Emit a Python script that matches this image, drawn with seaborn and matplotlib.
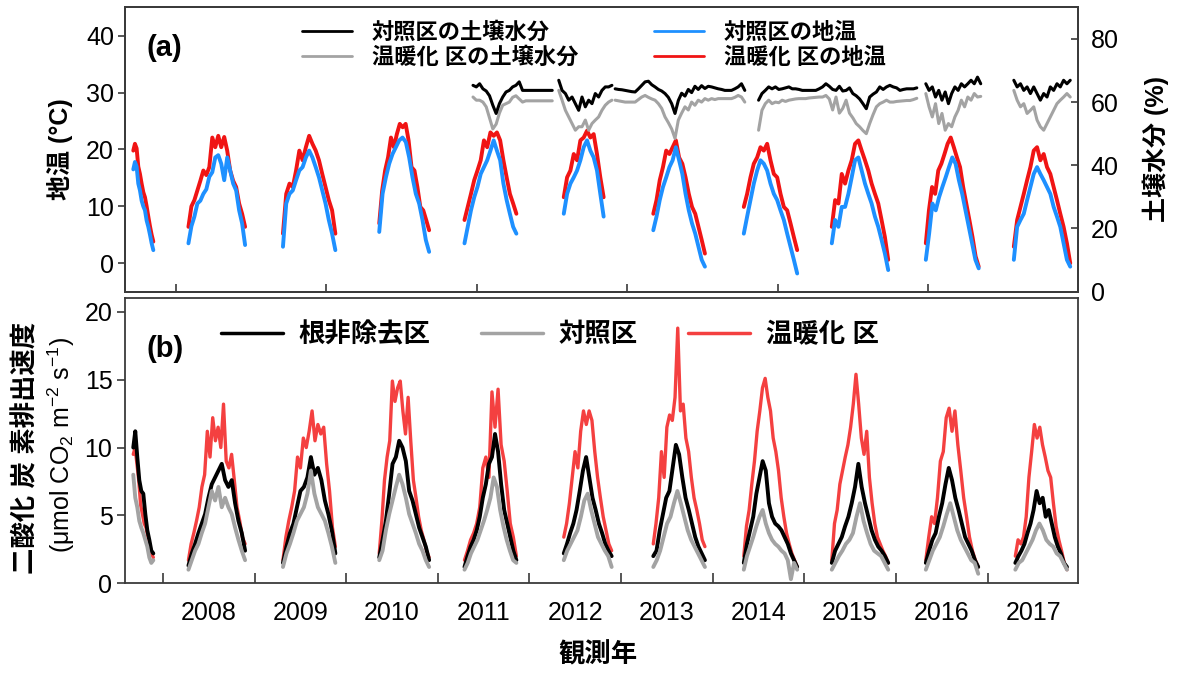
import pandas as pd
import matplotlib
matplotlib.use("Agg")
import matplotlib.pyplot as plt
from matplotlib.lines import Line2D
import seaborn as sns

# ---- soil temperature (deg C), one growing season per year ----
temp_seasons = {
    2007: ("2007-09-04", "2007-11-23"), 2008: ("2008-04-11", "2008-11-23"),
    2009: ("2009-04-23", "2009-11-18"), 2010: ("2010-05-12", "2010-11-27"),
    2011: ("2011-04-17", "2011-11-10"), 2012: ("2012-05-17", "2012-10-23"),
    2013: ("2013-05-09", "2013-12-01"), 2014: ("2014-05-05", "2014-12-04"),
    2015: ("2015-04-21", "2015-12-02"), 2016: ("2016-04-30", "2016-11-27"),
    2017: ("2017-04-16", "2017-11-27"),
}
temp_ctrl = {
    2007: [16.5, 17.8, 17.0, 14.0, 12.8, 11.0, 10.0, 9.3, 7.5, 6.4, 5.0, 3.5, 2.3],
    2008: [3.5, 6.5, 8.2, 10.5, 11.0, 12.2, 13.0, 15.2, 16.0, 18.6, 19.0, 17.5,
           14.6, 18.6, 16.3, 14.0, 12.8, 9.3, 7.0, 3.2],
    2009: [2.9, 10.5, 12.2, 12.8, 14.6, 16.3, 16.9, 18.6, 19.8, 18.6, 16.9, 15.1,
           12.8, 10.5, 7.6, 5.2, 2.3],
    2010: [5.5, 12.2, 15.1, 17.5, 19.2, 20.4, 21.6, 22.1, 21.3, 18.6, 15.1, 12.2,
           10.5, 7.6, 4.1, 2.0],
    2011: [3.5, 6.4, 9.3, 11.6, 13.4, 15.7, 16.9, 18.1, 19.8, 21.6, 19.8, 18.1,
           14.0, 11.1, 8.7, 6.4, 5.2],
    2012: [8.7, 12.2, 14.0, 15.1, 16.3, 18.1, 20.4, 21.6, 19.8, 18.6, 16.3, 12.2, 8.2],
    2013: [5.8, 8.2, 11.1, 13.4, 15.1, 16.9, 18.1, 20.4, 18.1, 15.7, 12.2, 9.3,
           7.0, 5.2, 2.9, 0.6, -0.6],
    2014: [5.2, 8.2, 11.1, 14.0, 16.3, 18.1, 17.5, 16.3, 14.0, 12.2, 11.1, 9.3,
           7.6, 5.2, 2.9, 0.6, -1.8],
    2015: [3.5, 7.6, 6.4, 9.9, 9.9, 12.2, 15.1, 18.1, 18.6, 16.3, 14.0, 12.2,
           10.5, 8.2, 6.4, 4.1, 1.7, -1.2],
    2016: [0.6, 5.2, 10.5, 9.3, 11.6, 13.4, 15.1, 16.9, 18.6, 17.5, 14.6, 12.2,
           9.3, 6.4, 3.5, 0.6, -0.9],
    2017: [0.6, 6.4, 7.6, 8.7, 11.1, 13.4, 15.7, 16.9, 15.7, 14.6, 13.4, 12.2,
           9.9, 8.2, 6.4, 3.5, 0.6, -0.6],
}
temp_warm = {
    2007: [19.8, 21.0, 20.2, 17.0, 15.7, 14.0, 12.5, 11.6, 10.0, 8.2, 6.5, 5.0, 3.8],
    2008: [6.4, 10.0, 11.1, 12.8, 14.5, 16.3, 15.5, 16.9, 22.1, 20.4, 22.4, 20.4,
           22.2, 19.8, 16.3, 14.5, 13.4, 10.5, 8.7, 6.4],
    2009: [5.2, 12.2, 14.0, 13.4, 16.3, 19.8, 18.1, 20.4, 22.4, 21.0, 19.8, 18.1,
           15.7, 13.4, 11.1, 9.3, 5.2],
    2010: [7.0, 12.8, 16.3, 18.6, 22.1, 20.4, 22.7, 24.5, 23.9, 24.5, 21.6, 16.9,
           16.3, 13.4, 9.9, 9.3, 7.6, 5.8],
    2011: [7.6, 9.9, 12.2, 14.6, 16.3, 18.1, 21.6, 20.4, 23.0, 22.4, 23.0, 21.6,
           18.1, 15.1, 12.2, 10.5, 8.7],
    2012: [11.6, 15.1, 16.3, 19.2, 18.1, 21.6, 22.1, 23.3, 22.1, 22.7, 19.2, 15.1, 11.6],
    2013: [8.7, 11.1, 14.6, 16.9, 19.8, 19.2, 20.4, 21.6, 18.6, 17.5, 15.1, 12.2,
           9.9, 8.7, 6.4, 4.1, 1.7],
    2014: [9.9, 12.2, 15.1, 17.5, 18.6, 20.4, 19.8, 21.0, 18.1, 15.7, 15.1, 12.2,
           9.9, 9.3, 7.0, 4.6, 2.3],
    2015: [6.4, 11.1, 10.5, 15.7, 14.0, 16.3, 18.1, 21.0, 21.6, 19.8, 18.1, 16.3,
           14.0, 12.2, 10.5, 7.6, 4.6, 0.6],
    2016: [3.5, 9.3, 13.4, 12.2, 16.3, 17.5, 19.2, 21.0, 22.1, 20.4, 18.6, 16.9,
           13.4, 10.5, 7.6, 4.6, 1.2, -0.6],
    2017: [2.9, 7.6, 9.9, 12.2, 14.6, 16.9, 19.8, 20.4, 18.1, 19.2, 16.9, 15.7,
           13.4, 11.1, 8.7, 6.4, 3.5, 0.0],
}

# ---- soil moisture (%), logged segments ----
moist_segments = {
    1: ("2011-05-21", "2012-04-01"), 2: ("2012-04-27", "2012-11-25"),
    3: ("2012-12-08", "2014-05-09"), 4: ("2014-07-03", "2016-03-25"),
    5: ("2016-04-30", "2016-12-05"), 6: ("2017-04-16", "2017-11-27"),
}
moist_ctrl = {
    1: [65.3, 64.8, 65.8, 64.2, 63.5, 62.0, 59.0, 56.4, 59.5, 61.6, 63.2, 63.7,
        64.8, 65.3, 66.4, 63.7, 63.7, 63.7, 63.7, 63.7, 63.7, 63.7, 63.7, 63.7, 63.7],
    2: [66.9, 63.7, 62.7, 60.6, 61.6, 59.5, 57.4, 61.6, 58.5, 60.6, 59.5, 62.7,
        61.6, 63.7, 64.8, 64.8, 65.3],
    3: [64.2, 64.0, 63.9, 63.7, 63.5, 63.3, 63.2, 64.2, 65.3, 66.4, 66.6, 65.5,
        64.8, 64.0, 63.5, 62.7, 61.5, 59.5, 56.4, 60.5, 62.8, 61.9, 64.0, 63.0,
        65.0, 64.0, 65.2, 64.3, 65.0, 64.8, 64.5, 64.2, 64.0, 63.7, 63.7, 63.7,
        64.2, 64.8, 65.8, 63.7],
    4: [60.6, 62.7, 63.7, 64.8, 64.2, 64.8, 64.0, 64.2, 64.5, 64.8, 64.2, 64.2,
        64.0, 63.7, 63.7, 63.7, 63.7, 63.7, 64.2, 64.8, 65.8, 65.0, 64.0, 63.7,
        65.0, 63.5, 63.7, 64.5, 62.7, 62.0, 61.0, 59.5, 57.9, 61.6, 62.5, 63.2,
        64.8, 64.0, 64.8, 65.3, 64.8, 64.5, 63.7, 64.0, 64.2, 64.2, 64.2, 64.5],
    5: [65.8, 63.7, 64.8, 61.6, 63.7, 60.6, 63.2, 59.5, 62.7, 64.8, 63.7, 65.8,
        64.8, 65.8, 66.9, 65.8, 67.9, 65.8],
    6: [66.9, 64.8, 65.8, 63.7, 64.8, 62.7, 64.8, 62.7, 60.6, 62.7, 61.6, 64.8,
        63.7, 65.8, 64.8, 66.9, 65.8, 66.9],
}
moist_warm = {
    1: [61.6, 60.6, 60.6, 60.0, 58.5, 55.0, 51.5, 53.0, 56.5, 59.0, 59.5, 60.0,
        61.5, 62.0, 61.0, 60.0, 60.4, 60.4, 60.4, 60.4, 60.4, 60.4, 60.4, 60.4, 60.4],
    2: [63.7, 60.6, 57.4, 55.3, 53.2, 51.1, 52.2, 52.2, 54.3, 51.1, 53.2, 54.3,
        55.3, 57.4, 59.0, 60.0, 60.6],
    3: [60.6, 60.4, 60.2, 60.0, 60.0, 60.0, 60.0, 60.8, 61.6, 62.1, 61.5, 61.0,
        60.6, 59.5, 58.0, 55.3, 53.5, 51.5, 48.5, 54.3, 56.5, 58.5, 57.5, 60.0,
        59.0, 60.6, 60.0, 61.1, 60.6, 61.1, 60.8, 61.1, 61.1, 61.1, 61.1, 61.1,
        61.5, 62.1, 61.6, 60.0],
    4: [51.1, 57.4, 59.5, 60.6, 59.5, 60.0, 59.8, 60.6, 60.2, 60.6, 60.8, 61.0,
        61.1, 61.1, 61.1, 61.3, 61.4, 61.5, 61.6, 61.6, 62.1, 61.0, 57.5, 61.6,
        56.5, 58.0, 60.6, 56.5, 55.0, 53.2, 52.2, 51.0, 50.0, 53.2, 56.0, 58.5,
        59.5, 60.0, 60.6, 60.0, 60.0, 60.2, 60.3, 60.4, 60.5, 60.5, 60.8, 61.2],
    5: [62.7, 58.5, 55.3, 59.5, 53.2, 56.4, 51.1, 53.2, 52.2, 55.3, 57.4, 60.6,
        58.5, 61.6, 60.6, 62.7, 61.6, 61.8],
    6: [63.7, 60.6, 58.5, 59.5, 56.4, 57.4, 58.5, 54.3, 52.2, 51.1, 53.2, 55.3,
        57.4, 59.5, 60.6, 61.6, 62.7, 61.6],
}

# ---- soil CO2 efflux (umol CO2 m-2 s-1) ----
flux_seasons = {
    2007: ("2007-09-04", "2007-11-23"), 2008: ("2008-04-11", "2008-11-23"),
    2009: ("2009-04-23", "2009-11-18"), 2010: ("2010-05-12", "2010-11-27"),
    2011: ("2011-04-17", "2011-11-10"), 2012: ("2012-05-17", "2012-11-24"),
    2013: ("2013-05-09", "2013-12-01"), 2014: ("2014-05-05", "2014-12-04"),
    2015: ("2015-04-21", "2015-12-02"), 2016: ("2016-04-30", "2016-11-25"),
    2017: ("2017-04-22", "2017-11-14"),
}
flux_root = {
    2007: [10.0, 11.2, 9.3, 7.6, 6.8, 6.6, 5.1, 3.9, 3.2, 2.4, 2.2],
    2008: [1.3, 2.2, 2.9, 3.7, 4.4, 5.1, 6.3, 7.3, 7.8, 8.3, 8.8, 7.6, 7.1, 7.6,
           5.9, 4.6, 3.7, 2.4],
    2009: [1.5, 2.7, 3.7, 4.4, 5.6, 6.8, 7.1, 7.8, 9.3, 8.0, 8.5, 7.6, 6.1, 5.1, 3.9, 2.2],
    2010: [1.9, 3.2, 4.6, 6.6, 8.8, 9.3, 10.5, 10.0, 9.0, 6.8, 6.1, 5.1, 4.1, 3.4, 2.7, 1.7],
    2011: [1.2, 2.0, 2.7, 3.2, 3.9, 4.9, 6.3, 7.3, 8.8, 9.3, 11.0, 9.7, 7.3, 5.4,
           4.4, 3.4, 2.4, 1.7],
    2012: [2.2, 2.9, 3.7, 4.4, 5.4, 6.8, 8.3, 9.3, 7.8, 6.3, 5.4, 4.4, 3.7, 2.9, 2.4, 2.0],
    2013: [2.0, 2.4, 3.9, 5.1, 6.3, 6.8, 8.5, 10.2, 9.5, 7.8, 6.3, 5.4, 4.4, 3.4,
           2.7, 2.2, 1.7],
    2014: [1.5, 2.9, 3.9, 4.9, 6.6, 7.8, 9.0, 8.3, 5.9, 4.9, 4.4, 4.2, 3.9, 3.4,
           2.9, 2.2, 1.7, 1.2],
    2015: [1.5, 2.4, 2.9, 3.4, 4.2, 4.9, 5.9, 7.1, 8.8, 7.1, 5.9, 4.9, 3.9, 3.2,
           2.7, 2.4, 2.0, 1.5],
    2016: [1.5, 2.4, 3.2, 3.7, 4.9, 5.9, 7.3, 8.5, 7.6, 6.3, 5.4, 4.4, 3.4, 2.9,
           2.4, 1.7, 1.2],
    2017: [1.5, 2.0, 2.4, 2.9, 3.7, 4.4, 5.4, 6.8, 5.9, 6.3, 4.9, 5.4, 4.4, 3.4,
           2.7, 2.2, 1.5, 1.2],
}
flux_ctrl = {
    2007: [8.0, 6.3, 5.6, 4.6, 4.1, 3.7, 3.2, 2.7, 1.9, 1.5, 1.7],
    2008: [1.0, 1.7, 2.4, 2.9, 3.7, 4.4, 5.6, 6.8, 6.1, 7.1, 5.6, 6.3, 5.6, 5.1,
           4.1, 3.2, 2.4, 1.7],
    2009: [1.2, 2.2, 2.9, 3.7, 4.6, 5.1, 5.6, 6.6, 8.3, 6.6, 5.6, 5.1, 4.6, 3.7, 2.7, 1.5],
    2010: [1.7, 2.4, 3.9, 5.1, 6.1, 7.1, 8.0, 7.3, 6.3, 5.1, 4.4, 3.7, 2.9, 2.4, 1.7, 1.2],
    2011: [1.0, 1.5, 2.2, 2.7, 3.2, 3.9, 4.6, 5.4, 6.3, 7.8, 7.1, 5.4, 4.2, 3.2,
           2.4, 1.7, 1.5],
    2012: [1.7, 2.4, 2.9, 3.4, 3.9, 4.9, 6.1, 6.6, 5.4, 4.4, 3.4, 2.9, 2.4, 2.0, 1.2],
    2013: [1.2, 1.7, 2.4, 3.4, 4.4, 4.9, 5.9, 6.8, 5.9, 4.9, 3.9, 3.2, 2.7, 2.2, 1.7, 1.2],
    2014: [1.0, 2.0, 2.7, 3.4, 4.2, 4.9, 5.4, 4.4, 3.7, 3.2, 2.9, 2.7, 2.4, 2.2,
           1.7, 0.3, 1.5, 1.0],
    2015: [1.0, 1.5, 2.0, 2.4, 2.9, 3.2, 3.7, 4.9, 5.9, 4.6, 3.7, 2.9, 2.4, 2.2,
           2.0, 1.5, 1.0],
    2016: [1.0, 1.7, 2.4, 2.9, 3.4, 4.2, 5.1, 5.9, 4.9, 3.9, 3.2, 2.7, 2.2, 1.7, 1.5, 0.7],
    2017: [1.0, 1.5, 1.7, 2.2, 2.7, 3.2, 3.9, 4.4, 3.9, 3.2, 2.9, 2.7, 2.2, 2.0, 1.5, 1.0],
}
flux_warm = {
    2007: [9.5, 10.0, 8.8, 7.6, 5.8, 5.1, 4.4, 4.1, 3.4, 2.9, 2.2, 1.9],
    2008: [1.7, 2.9, 3.7, 4.6, 5.6, 7.1, 8.0, 11.2, 9.3, 12.2, 10.5, 11.5, 10.0,
           13.2, 9.0, 8.5, 9.5, 7.6, 5.6, 4.6, 3.4, 2.9],
    2009: [1.7, 3.4, 4.6, 5.6, 6.8, 9.3, 8.5, 10.7, 10.0, 11.2, 12.7, 10.5, 11.7,
           11.0, 11.5, 8.8, 6.8, 4.1, 2.7],
    2010: [2.2, 4.6, 7.6, 9.3, 10.5, 14.9, 13.4, 14.4, 14.9, 12.7, 11.0, 13.7,
           10.5, 7.6, 6.3, 4.9, 3.9, 3.2, 2.4, 1.9],
    2011: [1.7, 2.4, 3.2, 3.7, 4.4, 5.6, 8.5, 9.3, 7.8, 14.1, 11.5, 14.3, 10.2,
           9.0, 6.8, 4.4, 3.4, 2.0],
    2012: [3.4, 4.4, 5.9, 7.8, 9.7, 8.5, 11.2, 12.7, 11.7, 12.7, 12.0, 9.7, 7.8,
           6.3, 4.9, 3.9, 2.9, 2.4],
    2013: [2.9, 4.4, 6.3, 9.7, 7.8, 11.5, 12.4, 12.0, 13.7, 18.8, 12.7, 13.2,
           10.7, 9.7, 7.8, 6.3, 5.4, 4.4, 3.2, 2.7],
    2014: [2.0, 4.2, 5.4, 7.3, 9.0, 11.2, 12.7, 14.4, 15.1, 13.7, 12.7, 10.7, 9.7,
           8.3, 6.3, 4.9, 3.7, 2.9, 2.2, 1.7, 1.2],
    2015: [1.7, 4.4, 5.4, 7.3, 8.3, 9.3, 10.2, 11.5, 13.2, 15.4, 13.2, 10.7, 9.5,
           11.2, 7.8, 5.9, 4.4, 3.4, 2.9, 2.4, 2.0, 1.5],
    2016: [1.7, 3.4, 4.9, 4.4, 6.3, 9.0, 9.7, 12.2, 12.9, 11.2, 12.7, 10.2, 8.3,
           6.3, 4.9, 3.4, 2.4, 1.7, 1.2],
    2017: [2.0, 3.2, 2.9, 3.4, 4.9, 7.8, 9.7, 11.7, 10.7, 11.5, 10.2, 9.3, 8.3,
           7.8, 5.9, 4.2, 3.2, 2.4, 1.5, 1.0],
}

year_labels = list(range(2008, 2018))


def to_frame(spans, values):
    parts = []
    for key, (start, end) in spans.items():
        vals = values[key]
        parts.append(pd.DataFrame({
            "date": pd.date_range(start, end, periods=len(vals)),
            "value": vals,
            "season": str(key),
        }))
    return pd.concat(parts, ignore_index=True)


def draw(ax, frame, color, lw):
    sns.lineplot(data=frame, x="date", y="value", units="season", estimator=None,
                 sort=False, color=color, linewidth=lw, ax=ax, legend=False)


sns.set_style("ticks")
plt.rcParams["font.family"] = ["Liberation Sans", "Noto Sans CJK JP"]
plt.rcParams["text.color"] = "black"
plt.rcParams["axes.labelcolor"] = "black"
plt.rcParams["xtick.color"] = "black"
plt.rcParams["ytick.color"] = "black"
plt.rcParams["mathtext.fontset"] = "custom"
plt.rcParams["mathtext.rm"] = "Liberation Sans"
plt.rcParams["mathtext.it"] = "Liberation Sans:italic"
plt.rcParams["mathtext.bf"] = "Liberation Sans:bold"

BLUE = "#1E90FF"
RED_A = "#F01414"
RED_B = "#F44040"
GREY = "#A3A3A3"
FRAME = "#3a3a3a"

fig = plt.figure(figsize=(11.77, 6.75), dpi=100)
ax_a = fig.add_axes([0.1062, 0.5679, 0.8097, 0.4213])
ax_m = ax_a.twinx()
ax_b = fig.add_axes([0.1062, 0.1359, 0.8097, 0.4222])

xmin, xmax = pd.Timestamp("2007-08-02"), pd.Timestamp("2017-12-28")

# panel (a)
draw(ax_a, to_frame(temp_seasons, temp_warm), RED_A, 2.8)
draw(ax_a, to_frame(temp_seasons, temp_ctrl), BLUE, 2.8)
draw(ax_m, to_frame(moist_segments, moist_warm), GREY, 2.2)
draw(ax_m, to_frame(moist_segments, moist_ctrl), "black", 2.2)

ax_a.set_ylim(-5, 45)
ax_a.set_yticks([0, 10, 20, 30, 40])
ax_m.set_ylim(0, 90)
ax_m.set_yticks([0, 20, 40, 60, 80])
ax_a.set_xlim(xmin, xmax)
ax_a.set_xticks(pd.date_range("2008-02-21", periods=6, freq="600D"))
ax_a.tick_params(axis="x", direction="in", length=6, width=1.2, color=FRAME,
                 labelbottom=False)
ax_a.tick_params(axis="y", direction="out", length=5, width=1.2, color=FRAME,
                 labelsize=18, pad=3, labelcolor="black")
ax_m.tick_params(axis="y", direction="in", length=5, width=1.2, color=FRAME,
                 labelsize=18, pad=9, labelcolor="black")
ax_a.set_xlabel("")
ax_a.set_ylabel("地温 (°C)", fontsize=18, fontweight="bold", labelpad=9)
ax_m.set_ylabel("土壌水分 (%)", fontsize=18, fontweight="bold", labelpad=17)
ax_a.text(0.023, 0.857, "(a)", transform=ax_a.transAxes, fontsize=21,
          fontweight="bold", ha="left", va="center")

handles_a = [Line2D([], [], color="black", lw=2), Line2D([], [], color=GREY, lw=2),
             Line2D([], [], color=BLUE, lw=2), Line2D([], [], color=RED_A, lw=2)]
labels_a = ["対照区の土壌水分", "温暖化 区の土壌水分", "対照区の地温", "温暖化 区の地温"]
ax_m.legend(handles_a, labels_a, ncol=2, loc="upper left",
            bbox_to_anchor=(0.174, 0.985), frameon=False, borderpad=0,
            handlelength=2.25, handletextpad=0.9, columnspacing=3.4,
            labelspacing=0.15, prop={"size": 16, "weight": "bold"})

# panel (b)
draw(ax_b, to_frame(flux_seasons, flux_warm), RED_B, 2.4)
draw(ax_b, to_frame(flux_seasons, flux_root), "black", 2.8)
draw(ax_b, to_frame(flux_seasons, flux_ctrl), GREY, 2.8)

ax_b.set_ylim(0, 21)
ax_b.set_yticks([0, 5, 10, 15, 20])
ax_b.set_xlim(xmin, xmax)
ax_b.set_xticks(pd.to_datetime([f"{y}-01-01" for y in year_labels]))
ax_b.set_xticks(pd.to_datetime([f"{y}-07-02" for y in year_labels]), minor=True)
ax_b.set_xticklabels([], minor=False)
ax_b.set_xticklabels([str(y) for y in year_labels], minor=True)
ax_b.tick_params(axis="x", which="major", direction="in", length=7, width=1.2,
                 color=FRAME)
ax_b.tick_params(axis="x", which="minor", length=0, labelsize=18, pad=13,
                 labelcolor="black")
ax_b.tick_params(axis="y", direction="out", length=6, width=1.2, color=FRAME,
                 labelsize=18, pad=3, labelcolor="black")
ax_b.set_xlabel("")
ax_b.set_ylabel("")
ax_b.text(0.023, 0.822, "(b)", transform=ax_b.transAxes, fontsize=21,
          fontweight="bold", ha="left", va="center")

handles_b = [Line2D([], [], color="black", lw=2.5), Line2D([], [], color=GREY, lw=2.5),
             Line2D([], [], color=RED_B, lw=2.5)]
labels_b = ["根非除去区", "対照区", "温暖化 区"]
ax_b.legend(handles_b, labels_b, ncol=3, loc="upper left",
            bbox_to_anchor=(0.087, 0.965), frameon=False, borderpad=0,
            handlelength=2.35, handletextpad=0.6, columnspacing=1.9,
            prop={"size": 19, "weight": "bold"})

for ax in (ax_a, ax_m, ax_b):
    for side in ("left", "right", "top", "bottom"):
        ax.spines[side].set_visible(True)
        ax.spines[side].set_color(FRAME)
        ax.spines[side].set_linewidth(1.3)

fig.text(26 / 1177, 1 - 448 / 675, "二酸化 炭 素排出速度", rotation=90,
         fontsize=19, fontweight="bold", ha="center", va="center")
fig.text(61 / 1177, 1 - 445 / 675, "(μmol CO$_2$ m$^{-2}$ s$^{-1}$)", rotation=90,
         fontsize=18, ha="center", va="center")
fig.text(598 / 1177, 1 - 655 / 675, "観測年", fontsize=19, fontweight="bold",
         ha="center", va="center")

fig.savefig("out.png", dpi=100)
